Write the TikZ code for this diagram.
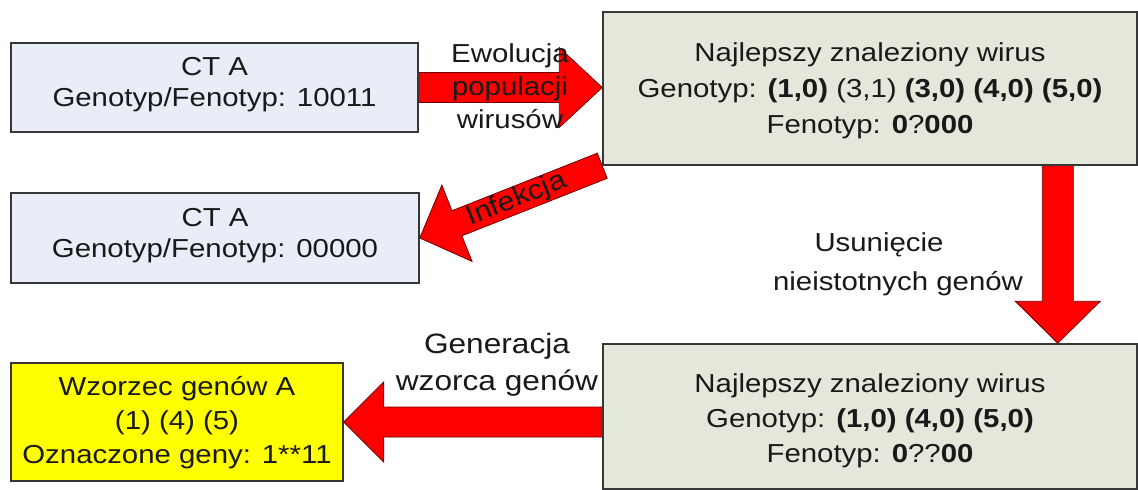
\documentclass[tikz,border=0pt]{standalone}
\usepackage{fontspec}
\setmainfont{Liberation Sans}[FakeStretch=1.13]
\usetikzlibrary{calc}
\pgfdeclarelayer{bgl}
\pgfdeclarelayer{arrows}
\pgfsetlayers{bgl,arrows,main}
\definecolor{boxblue}{RGB}{232,237,247}
\definecolor{boxgreen}{RGB}{228,232,218}
\definecolor{boxyellow}{RGB}{255,255,0}
\definecolor{edgegray}{RGB}{55,55,55}
\definecolor{arrowred}{RGB}{255,0,0}
\definecolor{arrowedge}{RGB}{110,0,0}
\definecolor{ink}{RGB}{25,25,25}
% #1 tail, #2 tip, #3 shaft half width, #4 head half width, #5 head length
\newcommand{\fatarrow}[5]{%
  \coordinate (#2-base) at ($(#2)!#5!(#1)$);
  \filldraw[fatarrowstyle] ($(#1)!#3!90:(#2)$) -- ($(#2-base)!#3!90:(#2)$)
    -- ($(#2-base)!#4!90:(#2)$) -- (#2) -- ($(#2-base)!#4!-90:(#2)$)
    -- ($(#2-base)!#3!-90:(#2)$) -- ($(#1)!#3!-90:(#2)$) -- cycle;
}
\begin{document}
\begin{tikzpicture}[x=1pt,y=-1pt,
  box/.style={draw=edgegray, line width=1.5pt, inner sep=0pt},
  boxtext/.style={anchor=north, inner sep=0pt, align=center, text=ink,
    font=\fontsize{26}{#1}\selectfont},
  lbl/.style={anchor=north, inner sep=0pt, align=center, text=ink,
    font=\fontsize{26}{33}\selectfont},
  fatarrowstyle/.style={fill=arrowred, draw=arrowedge, line width=0.8pt, line join=miter}]
\useasboundingbox (0,0) rectangle (1138,490);
\begin{pgfonlayer}{bgl}
\fill[white] (0,0) rectangle (1138,490);
\end{pgfonlayer}

% boxes
\node[box, fill=boxblue, minimum width=407pt, minimum height=89pt] (a1) at (214.5,87.5) {};
\node[box, fill=boxgreen, minimum width=534pt, minimum height=153pt] (b1) at (870,88.5) {};
\node[box, fill=boxblue, minimum width=408pt, minimum height=90pt] (a2) at (215,238) {};
\node[box, fill=boxgreen, minimum width=534pt, minimum height=145pt] (b2) at (870,416.5) {};
\node[box, fill=boxyellow, minimum width=332pt, minimum height=118pt] (w) at (177,422) {};

% box texts
\node[boxtext=31] (a1t) at (214.5,57) {CT A\\Genotyp/Fenotyp: 10011};
\node[boxtext=36] (b1t) at (870,42) {Najlepszy znaleziony wirus\\Genotyp: \textbf{(1,0)} (3,1) \textbf{(3,0) (4,0) (5,0)}\\Fenotyp: \textbf{0}?\textbf{000}};
\node[boxtext=31] (a2t) at (215,208) {CT A\\Genotyp/Fenotyp: 00000};
\node[boxtext=35] (b2t) at (870,373) {Najlepszy znaleziony wirus\\Genotyp: \textbf{(1,0) (4,0) (5,0)}\\Fenotyp: \textbf{0}??\textbf{00}};
\node[boxtext=34] (wt) at (177,376) {Wzorzec genów A\\(1) (4) (5)\\Oznaczone geny: 1**11};

% arrow end points
\coordinate (evo-tail) at (a1.east);
\coordinate (evo-tip) at (b1.west |- a1.east);
\coordinate (inf-tail) at (b1.south west);
\coordinate (inf-tip) at (a2.east);
\coordinate (usu-tail) at ([xshift=-80pt]b1.south east);
\coordinate (usu-tip) at ([xshift=-80pt]b2.north east);
\coordinate (gen-tail) at (b2.west |- w.east);
\coordinate (gen-tip) at (w.east);

\begin{pgfonlayer}{arrows}
\fatarrow{evo-tail}{evo-tip}{15pt}{40pt}{43pt}
\fatarrow{inf-tail}{inf-tip}{13.5pt}{41pt}{40pt}
\fatarrow{usu-tail}{usu-tip}{15.5pt}{42.5pt}{42pt}
\fatarrow{gen-tail}{gen-tip}{15pt}{40pt}{40pt}
\end{pgfonlayer}

% arrow labels
\node[lbl] (evo) at (510,43) {Ewolucja\\populacji\\wirusów};
\node[lbl, font=\fontsize{27}{33}\selectfont, rotate=21.8, anchor=center] (inf) at ($(inf-tail)!0.47!(inf-tip)$) {Infekcja};
\node[lbl, font=\fontsize{26}{39}\selectfont] (usu) at (898,232) {Usunięcie\hspace*{38pt}\\nieistotnych genów};
\node[lbl, font=\fontsize{28}{37}\selectfont] (gen) at (497,333) {Generacja\\wzorca genów};
\end{tikzpicture}
\end{document}
